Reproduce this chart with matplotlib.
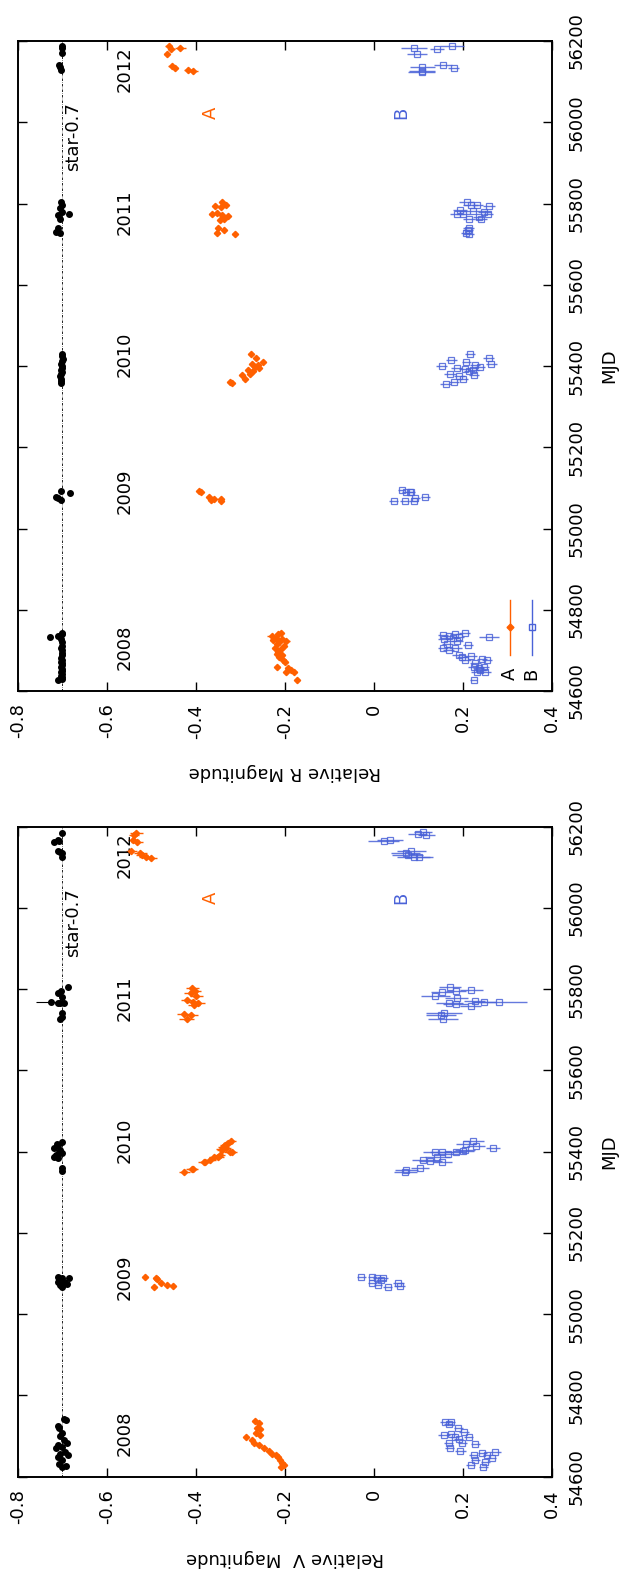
import matplotlib
matplotlib.use('Agg')
import matplotlib.pyplot as plt
from matplotlib.lines import Line2D

plt.rcParams['font.family'] = ['DejaVu Sans']

# ---- R band (upper panel) ----
star_R_mjd = [54627, 54630, 54634, 54638, 54642, 54646, 54650, 54655, 54660, 54664, 54668, 54672, 54677,
              54682, 54688, 54694, 54700, 54706, 54712, 54720, 54728, 54734, 54736, 54740, 54742,
              55093, 55087, 55078, 55074, 55070,
              55430, 55424, 55418, 55412, 55406, 55400, 55395, 55390, 55385, 55380, 55375, 55369, 55362, 55357,
              55804, 55796, 55788, 55780, 55771, 55775, 55763, 55739, 55731, 55727,
              56188, 56182, 56170, 56141, 56137, 56129]
star_R_mag = [-0.710, -0.702, -0.700, -0.703, -0.701, -0.704, -0.700, -0.702, -0.703, -0.700, -0.701, -0.704, -0.701,
              -0.703, -0.700, -0.702, -0.701, -0.703, -0.700, -0.702, -0.703, -0.727, -0.710, -0.701, -0.700,
              -0.703, -0.683, -0.714, -0.709, -0.703,
              -0.700, -0.702, -0.698, -0.701, -0.703, -0.700, -0.702, -0.704, -0.700, -0.703, -0.705, -0.703, -0.704, -0.703,
              -0.703, -0.702, -0.705, -0.701, -0.710, -0.685, -0.705, -0.710, -0.714, -0.705,
              -0.700, -0.702, -0.700, -0.708, -0.705, -0.703]

A_R_mjd = [54742, 54740, 54735, 54731, 54727, 54726, 54721, 54723, 54717, 54711, 54705, 54703, 54697, 54691,
           54689, 54683, 54676, 54672, 54660, 54656, 54653, 54648, 54648, 54627,
           55092, 55089, 55077, 55070, 55072, 55072, 55067,
           55429, 55419, 55411, 55404, 55402, 55398, 55394, 55390, 55388, 55380, 55378, 55368, 55361, 55357,
           55804, 55793, 55792, 55796, 55775, 55777, 55771, 55769, 55763, 55759, 55739, 55736, 55727, 55724,
           56188, 56180, 56182, 56168, 56139, 56134, 56129, 56125]
A_R_mag = [-0.210, -0.215, -0.230, -0.221, -0.206, -0.227, -0.213, -0.197, -0.217, -0.202, -0.222, -0.210, -0.215, -0.217,
           -0.207, -0.213, -0.204, -0.199, -0.217, -0.193, -0.187, -0.180, -0.197, -0.172,
           -0.393, -0.388, -0.370, -0.366, -0.359, -0.343, -0.344,
           -0.276, -0.264, -0.249, -0.273, -0.260, -0.267, -0.258, -0.282, -0.271, -0.279, -0.297, -0.290, -0.324, -0.318,
           -0.341, -0.357, -0.344, -0.333, -0.365, -0.352, -0.341, -0.328, -0.337, -0.346, -0.350, -0.337, -0.353, -0.313,
           -0.461, -0.455, -0.435, -0.466, -0.454, -0.448, -0.417, -0.406]
A_R_err = [0.006, 0.006, 0.010, 0.006, 0.006, 0.006, 0.006, 0.008, 0.006, 0.006, 0.006, 0.006, 0.006, 0.006,
           0.006, 0.006, 0.006, 0.006, 0.006, 0.006, 0.006, 0.006, 0.006, 0.004,
           0.004, 0.004, 0.004, 0.004, 0.004, 0.004, 0.004,
           0.005, 0.005, 0.005, 0.005, 0.005, 0.005, 0.005, 0.005, 0.005, 0.005, 0.005, 0.005, 0.005, 0.005,
           0.005, 0.005, 0.005, 0.005, 0.005, 0.005, 0.005, 0.005, 0.005, 0.005, 0.005, 0.005, 0.005, 0.005,
           0.008, 0.008, 0.012, 0.006, 0.008, 0.008, 0.010, 0.010]

B_R_mjd = [54738, 54735, 54740, 54742, 54727, 54731, 54733, 54717, 54723, 54713, 54705, 54701, 54707, 54733,
           54689, 54683, 54676, 54686, 54668, 54678, 54676, 54660, 54656, 54660, 54648, 54652, 54648, 54627,
           55095, 55091, 55089, 55089, 55077, 55074, 55068, 55068, 55068,
           55429, 55419, 55415, 55411, 55401, 55405, 55402, 55398, 55394, 55392, 55388, 55390, 55380, 55376,
           55378, 55368, 55361, 55356,
           55804, 55796, 55796, 55793, 55783, 55782, 55773, 55775, 55779, 55774, 55761, 55766, 55763, 55739,
           55735, 55727, 55725,
           56182, 56168, 56180, 56188, 56137, 56127, 56124, 56141, 56134]
B_R_mag = [0.155, 0.168, 0.183, 0.204, 0.157, 0.177, 0.190, 0.165, 0.187, 0.211, 0.155, 0.168, 0.183, 0.259,
           0.190, 0.198, 0.205, 0.217, 0.228, 0.243, 0.254, 0.224, 0.235, 0.247, 0.231, 0.239, 0.250, 0.224,
           0.062, 0.071, 0.080, 0.084, 0.115, 0.093, 0.089, 0.069, 0.044,
           0.216, 0.258, 0.174, 0.207, 0.152, 0.264, 0.227, 0.238, 0.186, 0.204, 0.214, 0.223, 0.171, 0.192,
           0.225, 0.199, 0.180, 0.161,
           0.208, 0.217, 0.232, 0.259, 0.193, 0.222, 0.186, 0.200, 0.248, 0.256, 0.213, 0.235, 0.241, 0.213,
           0.211, 0.207, 0.213,
           0.090, 0.097, 0.142, 0.176, 0.109, 0.108, 0.107, 0.155, 0.179]
B_R_err = [0.012, 0.012, 0.012, 0.012, 0.012, 0.014, 0.012, 0.012, 0.014, 0.012, 0.012, 0.012, 0.014, 0.022,
           0.014, 0.012, 0.012, 0.014, 0.012, 0.012, 0.012, 0.012, 0.012, 0.012, 0.012, 0.012, 0.012, 0.008,
           0.008, 0.008, 0.008, 0.008, 0.010, 0.010, 0.010, 0.010, 0.010,
           0.012, 0.012, 0.012, 0.010, 0.012, 0.012, 0.012, 0.012, 0.012, 0.012, 0.012, 0.012, 0.014, 0.012,
           0.012, 0.012, 0.012, 0.012,
           0.016, 0.016, 0.012, 0.014, 0.016, 0.030, 0.016, 0.016, 0.014, 0.012, 0.014, 0.012, 0.014, 0.012,
           0.012, 0.012, 0.012,
           0.029, 0.022, 0.016, 0.027, 0.029, 0.030, 0.030, 0.020, 0.013]

# ---- V band (lower panel) ----
star_V_mjd = [54741, 54740, 54725, 54719, 54707, 54699, 54690, 54678, 54674, 54682, 54670, 54662, 54657,
              54653, 54648, 54641, 54631, 54626, 54625,
              55092, 55088, 55088, 55080, 55080, 55072, 55074, 55068,
              55425, 55420, 55416, 55408, 55404, 55400, 55392, 55396, 55384, 55388, 55359, 55353,
              55769, 55796, 55790, 55781, 55805, 55767, 55767, 55765, 55741, 55726, 55732,
              56184, 56167, 56163, 56165, 56141, 56138, 56134, 56126]
star_V_mag = [-0.696, -0.692, -0.711, -0.708, -0.701, -0.705, -0.696, -0.710, -0.701, -0.690, -0.714, -0.694, -0.705,
              -0.687, -0.711, -0.701, -0.708, -0.692, -0.701,
              -0.710, -0.700, -0.685, -0.711, -0.697, -0.706, -0.690, -0.700,
              -0.701, -0.712, -0.710, -0.718, -0.705, -0.708, -0.714, -0.701, -0.710, -0.718, -0.701, -0.702,
              -0.725, -0.703, -0.710, -0.701, -0.687, -0.711, -0.696, -0.705, -0.701, -0.705, -0.702,
              -0.701, -0.711, -0.718, -0.708, -0.711, -0.705, -0.701, -0.702]
star_V_err = [0.003] * 39 + [0.034] + [0.003] * 18

A_V_mjd = [54738, 54731, 54719, 54717, 54708, 54703, 54698, 54690, 54682, 54678, 54670, 54664, 54656, 54653,
           54648, 54641, 54633, 54629, 54623,
           55091, 55090, 55086, 55068, 55076, 55072, 55069,
           55426, 55421, 55416, 55412, 55408, 55406, 55404, 55398, 55398, 55392, 55388, 55386, 55380, 55375,
           55375, 55357, 55351, 55357,
           55803, 55796, 55790, 55784, 55773, 55769, 55767, 55761, 55739, 55736, 55726,
           56184, 56180, 56163, 56167, 56140, 56136, 56130, 56126, 56124]
A_V_mag = [-0.267, -0.258, -0.262, -0.255, -0.266, -0.257, -0.287, -0.273, -0.270, -0.258, -0.247, -0.236, -0.230, -0.221,
           -0.215, -0.212, -0.206, -0.202, -0.210,
           -0.514, -0.490, -0.488, -0.494, -0.479, -0.466, -0.452,
           -0.321, -0.328, -0.335, -0.339, -0.333, -0.342, -0.341, -0.324, -0.320, -0.346, -0.359, -0.350, -0.368, -0.383,
           -0.380, -0.407, -0.426, -0.410,
           -0.408, -0.402, -0.412, -0.399, -0.419, -0.406, -0.395, -0.404, -0.426, -0.412, -0.421,
           -0.534, -0.539, -0.532, -0.541, -0.545, -0.525, -0.521, -0.513, -0.501]
A_V_err = [0.006, 0.006, 0.006, 0.006, 0.006, 0.006, 0.006, 0.006, 0.006, 0.006, 0.006, 0.006, 0.006, 0.006,
           0.006, 0.006, 0.006, 0.006, 0.006,
           0.006, 0.006, 0.006, 0.006, 0.006, 0.006, 0.006,
           0.012, 0.012, 0.012, 0.012, 0.012, 0.012, 0.012, 0.012, 0.012, 0.012, 0.012, 0.012, 0.012, 0.012,
           0.012, 0.012, 0.012, 0.012,
           0.014, 0.014, 0.014, 0.014, 0.014, 0.014, 0.016, 0.014, 0.016, 0.016, 0.016,
           0.014, 0.012, 0.014, 0.012, 0.012, 0.014, 0.014, 0.014, 0.014]

B_V_mjd = [54735, 54734, 54730, 54721, 54703, 54705, 54711, 54698, 54692, 54698, 54684, 54684, 54680, 54671,
           54663, 54653, 54658, 54653, 54661, 54645, 54641, 54637, 54629, 54625,
           55091, 55092, 55088, 55088, 55084, 55076, 55072, 55068, 55076, 55069,
           55427, 55419, 55414, 55410, 55402, 55404, 55398, 55394, 55400, 55398, 55386, 55380, 55377, 55375,
           55359, 55355, 55351,
           55805, 55792, 55796, 55797, 55784, 55779, 55767, 55763, 55759, 55772, 55769, 55769, 55736, 55741, 55726,
           56186, 56181, 56180, 56165, 56167, 56140, 56134, 56130, 56126, 56126]
B_V_mag = [0.159, 0.172, 0.168, 0.189, 0.157, 0.174, 0.202, 0.181, 0.190, 0.213, 0.168, 0.198, 0.228, 0.170,
           0.194, 0.224, 0.243, 0.254, 0.273, 0.265, 0.228, 0.250, 0.217, 0.246,
           -0.028, -0.004, 0.007, 0.020, 0.016, -0.004, 0.009, 0.031, 0.055, 0.058,
           0.223, 0.207, 0.229, 0.268, 0.201, 0.205, 0.184, 0.167, 0.152, 0.137, 0.142, 0.111, 0.127, 0.154,
           0.103, 0.073, 0.070,
           0.171, 0.153, 0.185, 0.219, 0.138, 0.186, 0.169, 0.184, 0.217, 0.226, 0.248, 0.282, 0.151, 0.158, 0.155,
           0.111, 0.098, 0.118, 0.022, 0.036, 0.084, 0.071, 0.076, 0.089, 0.102]
B_V_err = [0.010, 0.010, 0.010, 0.010, 0.014, 0.010, 0.012, 0.010, 0.010, 0.010, 0.010, 0.010, 0.010, 0.010,
           0.012, 0.010, 0.010, 0.010, 0.012, 0.010, 0.010, 0.010, 0.010, 0.010,
           0.010, 0.010, 0.010, 0.012, 0.012, 0.010, 0.010, 0.010, 0.012, 0.012,
           0.024, 0.022, 0.020, 0.016, 0.024, 0.022, 0.022, 0.024, 0.026, 0.026, 0.028, 0.026, 0.026, 0.022,
           0.020, 0.026, 0.026,
           0.024, 0.024, 0.022, 0.026, 0.033, 0.026, 0.030, 0.028, 0.024, 0.024, 0.026, 0.062, 0.034, 0.040, 0.034,
           0.020, 0.022, 0.020, 0.035, 0.030, 0.033, 0.033, 0.035, 0.038, 0.030]

years = ['2008', '2009', '2010', '2011', '2012']
year_mjd = [54707, 55092, 55428, 55778, 56131]

mag_ticks = [-0.8, -0.6, -0.4, -0.2, 0, 0.2, 0.4]
mag_labels = ['-0.8', '-0.6', '-0.4', '-0.2', '0', '0.2', '0.4']
mjd_ticks = [54600, 54800, 55000, 55200, 55400, 55600, 55800, 56000, 56200]

orange = '#FF6000'
blue = '#4A62D8'
FS = 13


def draw_panel(ax, star_mjd, star_mag, star_err, a_mjd, a_mag, a_err, b_mjd, b_mag, b_err, ylab):
    ax.axvline(-0.7, color='black', lw=0.6, ls=(0, (3, 1.5, 0.6, 1.5)), zorder=1)
    ax.errorbar(star_mag, star_mjd, xerr=star_err, fmt='o', ms=4, color='black',
                ecolor='black', elinewidth=0.8, capsize=0, zorder=3)
    ax.errorbar(a_mag, a_mjd, xerr=a_err, fmt='D', ms=3.2, color=orange, mec=orange,
                ecolor=orange, elinewidth=1.0, capsize=0, zorder=3)
    ax.errorbar(b_mag, b_mjd, xerr=b_err, fmt='s', ms=4, mfc='none', mec=blue, mew=0.9,
                ecolor=blue, elinewidth=1.0, capsize=0, alpha=0.85, zorder=2)

    ax.set_xlim(-0.8, 0.4)
    ax.set_ylim(54600, 56200)
    ax.set_xticks(mag_ticks)
    ax.set_xticklabels(mag_labels, rotation=90, fontsize=FS)
    ax.set_yticks(mjd_ticks)
    ax.set_yticklabels([str(t) for t in mjd_ticks], rotation=90, fontsize=FS, va='center')
    ax.tick_params(direction='in', length=6.5, width=1.0, top=True, bottom=True,
                   left=True, right=True, labelleft=False, labelright=True)
    ax.tick_params(axis='x', pad=9)
    ax.tick_params(axis='y', pad=11)
    for sp in ax.spines.values():
        sp.set_linewidth(1.4)

    for yr, m in zip(years, year_mjd):
        ax.text(-0.56, m, yr, rotation=90, ha='center', va='center', fontsize=FS)
    ax.text(-0.677, 55964, 'star-0.7', rotation=90, ha='center', va='center', fontsize=FS)
    ax.text(-0.366, 56024, 'A', rotation=90, ha='center', va='center', fontsize=FS, color=orange)
    ax.text(0.062, 56024, 'B', rotation=90, ha='center', va='center', fontsize=FS, color=blue)

    ax.text(0.5, -0.125, ylab, rotation=180, ha='center', va='center', fontsize=FS,
            transform=ax.transAxes)
    ax.text(1.107, 0.5, 'MJD', rotation=90, ha='center', va='center', fontsize=FS,
            transform=ax.transAxes)


fig = plt.figure(figsize=(6.19, 15.77), dpi=100)
ax_r = fig.add_axes([0.029, 0.5618, 0.8627, 0.4122])
ax_v = fig.add_axes([0.029, 0.0636, 0.8627, 0.4122])

draw_panel(ax_r, star_R_mjd, star_R_mag, [0.003] * len(star_R_mjd), A_R_mjd, A_R_mag, A_R_err,
           B_R_mjd, B_R_mag, B_R_err, 'Relative R Magnitude')
draw_panel(ax_v, star_V_mjd, star_V_mag, star_V_err, A_V_mjd, A_V_mag, A_V_err,
           B_V_mjd, B_V_mag, B_V_err, 'Relative V  Magnitude')

# key of the upper panel, drawn by hand because it is rotated
for xk, col, mk, lab in [(0.921, orange, 'D', 'A'), (0.962, blue, 's', 'B')]:
    ax_r.add_line(Line2D([xk, xk], [0.055, 0.140], color=col, lw=1.0, transform=ax_r.transAxes))
    ax_r.add_line(Line2D([xk], [0.098], color=col, marker=mk, ms=3.5 if mk == 'D' else 4,
                         mfc=col if mk == 'D' else 'none', mec=col, transform=ax_r.transAxes))
    ax_r.text(xk, 0.026, lab, rotation=90, ha='center', va='center', fontsize=FS,
              transform=ax_r.transAxes)

fig.savefig('out.png', dpi=100)
